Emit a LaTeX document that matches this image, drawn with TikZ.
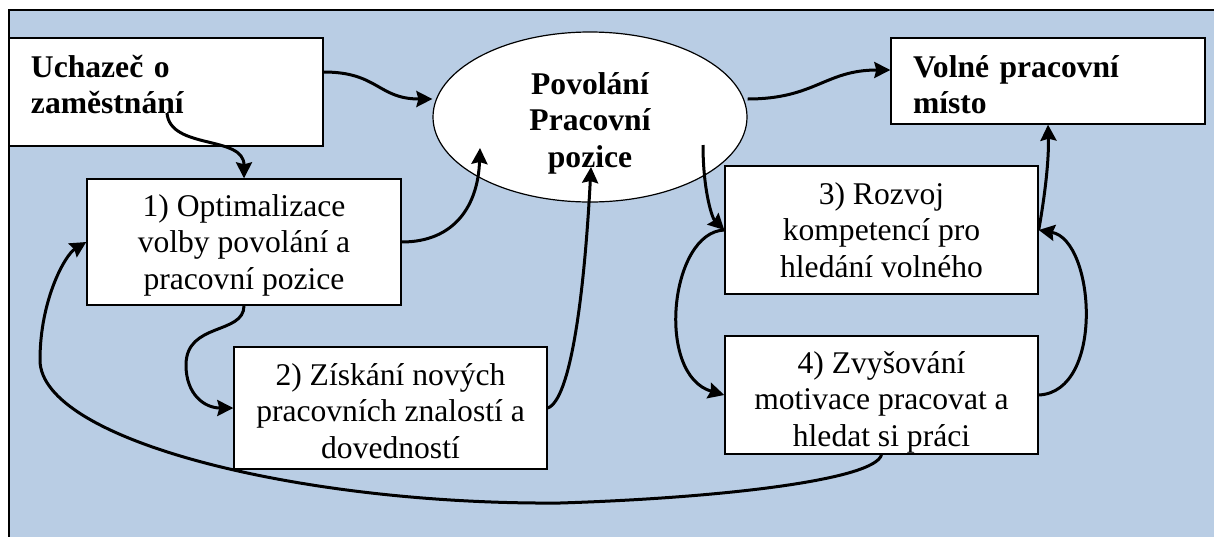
\documentclass[tikz,border=0pt]{standalone}
\usepackage{fontspec}
\setmainfont{Liberation Serif}
\usetikzlibrary{arrows.meta,shapes.geometric}
\definecolor{bgblue}{RGB}{185,205,228}

\begin{document}
\begin{tikzpicture}[->,>={Stealth[length=8pt,width=8pt,inset=1pt]},
  x=0.5pt,y=-0.5pt,line width=1.5pt,
  box node/.style={rectangle,draw,line width=0.7pt,fill=white,inner ysep=0pt,
    align=center,minimum width=157pt,font=\fontsize{15.8}{18.25}\selectfont},
  bold node/.style={box node,align=left,inner xsep=10.5pt,
    font=\fontsize{15.8}{18.25}\selectfont\bfseries},
  oval node/.style={ellipse,draw,line width=0.6pt,fill=white,inner sep=0pt,
    minimum width=157pt,minimum height=85pt,align=center,
    font=\fontsize{15.8}{18.25}\selectfont\bfseries}]

  % background and frame
  \useasboundingbox (0,0) rectangle (1214,536);
  \clip (0,0) rectangle (1214,536);
  \fill[white] (0,0) rectangle (1214,536);
  \fill[bgblue] (9,10) rectangle (1230,550);
  \draw[-,line width=1pt] (1230,10) -- (9,10) -- (9,550);

  \node[bold node,text width=135pt,text height=19.5pt,text depth=34.5pt] (uchazec) at (166,92) {Uchazeč o\\zaměstnání};
  \node[oval node,text height=52.5pt,text depth=2.5pt] (povolani) at (590,117) {Povolání\\Pracovní\\pozice};
  \node[bold node,text width=135pt,inner xsep=11pt,text height=19.5pt,text depth=23.5pt] (misto) at (1048,81) {Volné pracovní\\místo};
  \node[box node,text height=55pt,text depth=8pt] (1) at (244,242) {1) Optimalizace\\volby povolání a\\pracovní pozice};
  \node[box node,minimum width=156.5pt,text height=55.5pt,text depth=5.5pt] (2) at (390.5,408) {2) Získání nových\\pracovních znalostí a\\dovedností};
  \node[box node,minimum width=156.5pt,text height=55.5pt,text depth=8.5pt] (3) at (881.5,230) {3) Rozvoj\\kompetencí pro\\hledání volného};
  \node[box node,minimum width=156.5pt,text height=55pt,text depth=4pt] (4) at (881.5,395) {4) Zvyšování\\motivace pracovat a\\hledat si práci};

  \coordinate (uchout) at (167,113);
  \coordinate (posinA) at (480,148);
  \coordinate (posinB) at (591,167);
  \coordinate (posout) at (703,145);

  \draw (uchazec.east |- 0,72) .. controls (378,72) and (378,99) .. (povolani.west |- 0,99);
  \draw (uchout) .. controls (170,150) and (244,135) .. (1.north);
  \draw (1.east) .. controls (455,242) and (478,205) .. (posinA);
  \draw (1.south) .. controls (244,335) and (186,322) .. (186,365)
    .. controls (186,395) and (205,408) .. (2.west);
  \draw (2.east) .. controls (570,400) and (584,300) .. (posinB);
  \draw (povolani.east |- 0,99) .. controls (815,99) and (825,70) .. (misto.west |- 0,70);
  \draw (posout) .. controls (703,190) and (712,218) .. (3.west);
  \draw (3.west) .. controls (670,232) and (655,375) .. (4.west);
  \draw (4.east) .. controls (1105,392) and (1095,240) .. (3.east);
  \draw (3.east) .. controls (1045,195) and (1049,160) .. (misto.south);
  \draw (4.south) .. controls (875,480) and (720,498) .. (560,503)
    .. controls (300,505) and (40,440) .. (40,360)
    .. controls (40,300) and (65,255) .. (1.west);
\end{tikzpicture}
\end{document}
